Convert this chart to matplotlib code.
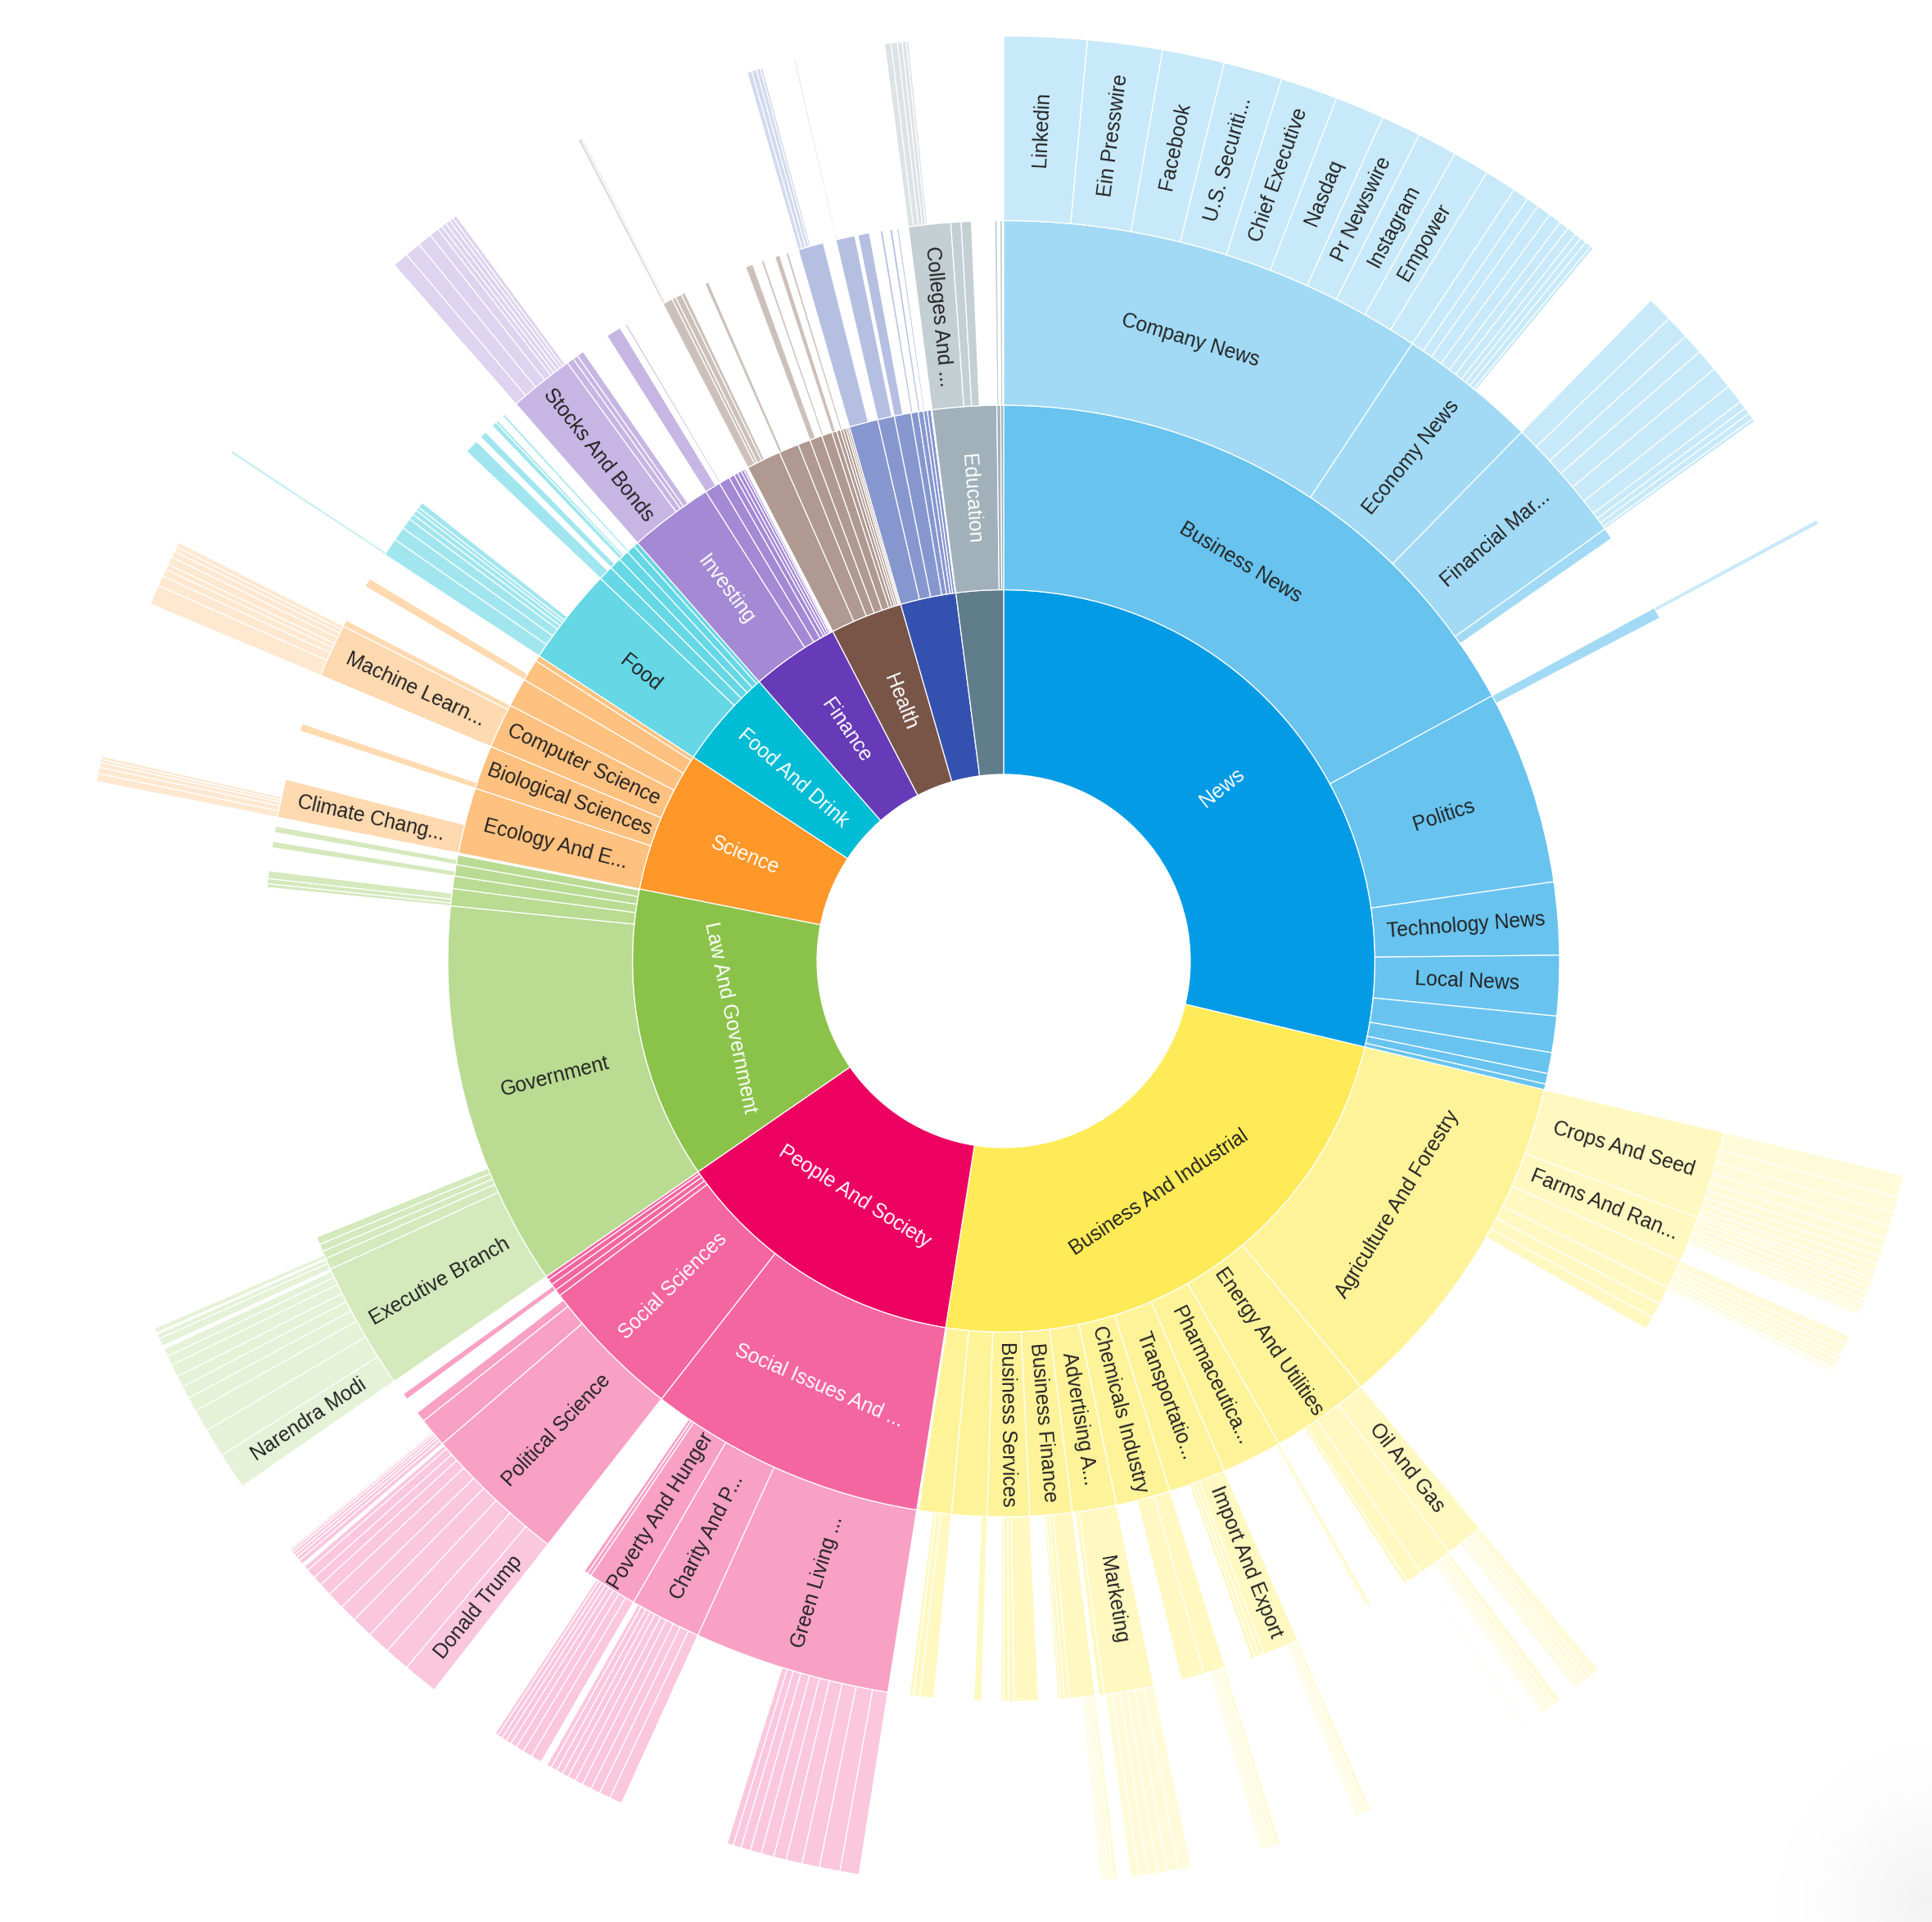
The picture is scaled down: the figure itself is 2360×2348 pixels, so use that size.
import math

import numpy as np
import matplotlib
matplotlib.use("Agg")  # headless
import matplotlib.pyplot as plt
from matplotlib.patches import Wedge
from matplotlib.colors import to_rgb

# ---------------------------------------------------------------------------
# Data (values are article counts; the whole circle is their total)
# None = segment too small to carry a label
# ---------------------------------------------------------------------------

TOP_NAMES = ["News", "Business And Industrial", "People And Society",
             "Law And Government", "Science", "Food And Drink", "Finance",
             "Health", None, None]
TOP_VALUES = [103.4, 85.6, 46.4, 45.8, 22.1, 15.5, 13.8, 11.3, 8.7, 7.4]

RING2_NAMES = {
    "News": ["Business News", "Politics", "Technology News", "Local News",
             None, None, None, None],
    "Business And Industrial": ["Agriculture And Forestry", "Energy And Utilities",
                                "Pharmaceutica...", "Transportatio...",
                                "Chemicals Industry", "Advertising A...",
                                "Business Finance", "Business Services", None, None],
    "People And Society": ["Social Issues And ...", "Social Sciences",
                           None, None, None, None],
    "Law And Government": ["Government", None, None, None, None],
    "Science": ["Ecology And E...", "Biological Sciences", "Computer Science",
                None, None, None],
    "Food And Drink": ["Food", None, None, None, None, None],
    "Finance": ["Investing", None, None, None, None, None, None, None, None],
    "Health": [None] * 11,
    "#8": [None] * 8,
    "#9": ["Education", None, None],
}
RING2_VALUES = {
    "News": [61.5, 20.3, 7.6, 6.3, 3.8, 2.2, 1.1, 0.6],
    "Business And Industrial": [36.6, 10.3, 6.3, 6.0, 5.7, 4.6, 4.4, 4.4, 3.7, 3.4],
    "People And Society": [29.0, 15.0, 0.7, 0.7, 0.6, 0.4],
    "Law And Government": [40.3, 1.8, 1.3, 1.2, 1.0],
    "Science": [6.9, 4.6, 4.7, 3.0, 2.3, 0.6],
    "Food And Drink": [10.2, 1.55, 1.25, 1.1, 0.9, 0.5],
    "Finance": [8.8, 1.65, 1.15, 0.6, 0.4, 0.4, 0.3, 0.2, 0.1],
    "Health": [3.6, 2.1, 1.3, 1.3, 1.1, 0.5, 0.4, 0.3, 0.3, 0.2, 0.2],
    "#8": [3.0, 1.75, 1.75, 0.75, 0.55, 0.4, 0.4, 0.1],
    "#9": [6.7, 0.4, 0.3],
}

RING3_NAMES = {
    "Business News": ["Company News", "Economy News", "Financial Mar...", None],
    "Politics": [None],
    "Agriculture And Forestry": ["Crops And Seed", "Farms And Ran...",
                                 None, None, None, None],
    "Energy And Utilities": ["Oil And Gas", None, None, None],
    "Pharmaceutica...": [None, None],
    "Transportatio...": ["Import And Export", None, None, None],
    "Chemicals Industry": [None, None],
    "Advertising A...": ["Marketing", None],
    "Business Finance": [None, None, None, None],
    "Business Services": [None, None, None, None],
    "Business And Industrial/8": [None],
    "Business And Industrial/9": [None, None, None],
    "Social Issues And ...": ["Green Living ...", "Charity And P...",
                              "Poverty And Hunger", None, None],
    "Social Sciences": ["Political Science", None, None],
    "People And Society/3": [None],
    "Government": ["Executive Branch", None, None, None, None],
    "Law And Government/1": [None, None, None],
    "Law And Government/3": [None],
    "Law And Government/4": [None],
    "Ecology And E...": ["Climate Chang..."],
    "Biological Sciences": [None],
    "Computer Science": ["Machine Learn...", None],
    "Science/4": [None],
    "Food": [None] * 7,
    "Food And Drink/1": [None],
    "Food And Drink/2": [None],
    "Food And Drink/3": [None, None],
    "Food And Drink/4": [None],
    "Investing": ["Stocks And Bonds", None, None, None],
    "Finance/1": [None],
    "Finance/2": [None],
    "Health/0": [None, None, None, None],
    "Health/1": [None],
    "Health/3": [None],
    "Health/4": [None],
    "Health/5": [None],
    "Health/7": [None],
    "#8/0": [None],
    "#8/1": [None],
    "#8/2": [None],
    "#8/3": [None],
    "#8/4": [None],
    "#8/5": [None],
    "Education": ["Colleges And ...", None, None],
    "#9/1": [None],
    "#9/2": [None],
}
RING3_VALUES = {
    "Business News": [33.5, 10.9, 9.9, 0.9],
    "Politics": [0.9],
    "Agriculture And Forestry": [6.9, 3.6, 2.3, 1.4, 1.2, 1.0],
    "Energy And Utilities": [3.0, 2.7, 1.25, 0.3],
    "Pharmaceutica...": [0.25, 0.15],
    "Transportatio...": [2.8, 0.4, 0.35, 0.3],
    "Chemicals Industry": [1.7, 1.8],
    "Advertising A...": [3.9, 0.4],
    "Business Finance": [2.0, 0.4, 0.3, 0.2],
    "Business Services": [1.9, 0.4, 0.4, 0.2],
    "Business And Industrial/8": [0.6],
    "Business And Industrial/9": [1.1, 0.5, 0.3],
    "Social Issues And ...": [15.4, 5.6, 3.9, 0.3, 0.3],
    "Social Sciences": [11.3, 2.3, 0.8],
    "People And Society/3": [0.5],
    "Government": [10.0, 0.9, 0.6, 0.6, 0.6],
    "Law And Government/1": [0.3, 0.4, 0.6],
    "Law And Government/3": [0.5],
    "Law And Government/4": [0.5],
    "Ecology And E...": [3.0],
    "Biological Sciences": [0.6],
    "Computer Science": [4.2, 0.5],
    "Science/4": [0.7],
    "Food": [1.4, 1.1, 0.85, 0.45, 0.4, 0.3, 0.45],
    "Food And Drink/1": [1.1],
    "Food And Drink/2": [0.55],
    "Food And Drink/3": [0.4, 0.2],
    "Food And Drink/4": [0.2],
    "Investing": [5.1, 0.55, 0.4, 0.55],
    "Finance/1": [1.2],
    "Finance/2": [0.15],
    "Health/0": [0.8, 0.3, 0.5, 0.3],
    "Health/1": [0.3],
    "Health/3": [0.6],
    "Health/4": [0.2],
    "Health/5": [0.4],
    "Health/7": [0.2],
    "#8/0": [2.0],
    "#8/1": [1.5],
    "#8/2": [0.9],
    "#8/3": [0.2],
    "#8/4": [0.2],
    "#8/5": [0.15],
    "Education": [3.3, 0.8, 0.8],
    "#9/1": [0.2],
    "#9/2": [0.2],
}

RING4_VALUES = {
    "Company News": [5.2, 4.7, 3.9, 3.7, 3.6, 3.1, 2.5, 2.5, 2.3, 2.0],
    "Economy News": [1.0, 0.8, 0.9, 0.8, 0.6, 0.6, 0.4, 0.4, 0.4, 0.2],
    "Financial Mar...": [1.6, 1.5, 1.3, 1.4, 1.4, 1.2, 0.5, 0.4, 0.4, 0.2],
    "Politics/0": [0.3],
    "Crops And Seed": [1.4, 1.0, 0.9, 0.75, 0.65, 0.55, 0.5, 0.5, 0.4, 0.25],
    "Farms And Ran...": [0.35, 0.4, 0.4, 0.3, 0.3, 0.2, 0.2],
    "Agriculture And Forestry/2": [0.6, 0.4, 0.35, 0.3, 0.3, 0.25],
    "Agriculture And Forestry/3": [0.15],
    "Oil And Gas": [0.6, 0.3, 0.3, 0.25, 0.2, 0.2],
    "Energy And Utilities/1": [0.4, 0.3, 0.2, 0.2, 0.15, 0.15, 0.1],
    "Energy And Utilities/2": [0.1],
    "Import And Export": [0.3, 0.2, 0.2, 0.15, 0.15],
    "Chemicals Industry/0": [0.3, 0.25, 0.2, 0.2, 0.15, 0.15],
    "Marketing": [0.8, 0.7, 0.6, 0.6, 0.6, 0.5],
    "Business Finance/0": [0.3, 0.25, 0.2, 0.15, 0.15],
    "Green Living ...": [1.2, 1.3, 1.1, 1.0, 0.8, 0.8, 0.7, 0.6, 0.5, 0.4],
    "Charity And P...": [0.8, 0.7, 0.6, 0.6, 0.5, 0.5, 0.4, 0.4, 0.4, 0.3],
    "Poverty And Hunger": [0.7, 0.6, 0.5, 0.4, 0.35, 0.3, 0.3, 0.2],
    "Political Science": [2.2, 1.6, 1.45, 1.35, 1.1, 1.1, 0.8, 0.6, 0.6, 0.3],
    "Social Sciences/1": [0.3, 0.25, 0.2, 0.2, 0.15, 0.1],
    "Executive Branch": [2.3, 1.8, 1.4, 0.9, 0.8, 0.7, 0.8, 0.6, 0.5],
    "Government/1": [0.5, 0.3],
    "Government/2": [0.3],
    "Climate Chang...": [0.5, 0.4, 0.3, 0.2, 0.2],
    "Machine Learn...": [1.26, 0.64, 0.45, 0.35, 0.5, 0.4, 0.3, 0.3],
    "Food/0": [0.2],
    "Stocks And Bonds": [1.0, 1.0, 0.9, 0.6, 0.3, 0.3, 0.3, 0.25, 0.25],
    "Health/0/0": [0.2, 0.1],
    "#8/0/0": [0.3, 0.3, 0.25, 0.15],
    "#8/1/0": [0.1],
    "Colleges And ...": [0.4, 0.4, 0.3, 0.25, 0.15],
}
LEAF_LABELS = {
    "Company News": ["Linkedin", "Ein Presswire", "Facebook", "U.S. Securiti...",
                     "Chief Executive", "Nasdaq", "Pr Newswire", "Instagram", "Empower"],
    "Political Science": ["Donald Trump"],
    "Executive Branch": ["Narendra Modi"],
}

# ---------------------------------------------------------------------------
# Style
# ---------------------------------------------------------------------------

TOP_COLORS = ["#039be5", "#ffeb57", "#ec0060", "#8bc34a", "#ff9729",
              "#00bcd4", "#673ab7", "#795548", "#3551b0", "#607d8b"]
RING_ALPHA = [1.0, 0.6, 0.37, 0.22]          # tint towards white per depth
RADII = [228, 453.5, 679, 904.5, 1130]
CX, CY = 1226, 1174
TANGENTIAL = {"Business And Industrial", "People And Society", "Law And Government",
              "Business News", "Agriculture And Forestry", "Social Issues And ...",
              "Company News"}
FONT = ["Liberation Sans", "DejaVu Sans"]
FONT_SIZE = 17.8


def _tint(color, alpha):
    r, g, b = to_rgb(color)
    return (1 - alpha * (1 - r), 1 - alpha * (1 - g), 1 - alpha * (1 - b))


def _text_color(rgb):
    def lin(c):
        return c / 12.92 if c <= 0.04045 else ((c + 0.055) / 1.055) ** 2.4
    lum = 0.2126 * lin(rgb[0]) + 0.7152 * lin(rgb[1]) + 0.0722 * lin(rgb[2])
    return "white" if lum < 0.47 else "#222222"


def _rotation(mid, tangential):
    rot = -mid if tangential else (90 - mid if mid < 180 else 270 - mid)
    rot = (rot + 180) % 360 - 180
    if rot > 90:
        rot -= 180
    elif rot <= -90:
        rot += 180
    return rot


def _children(key, depth):
    if depth == 0:
        return RING2_NAMES.get(key, []), RING2_VALUES.get(key, [])
    if depth == 1:
        return RING3_NAMES.get(key, []), RING3_VALUES.get(key, [])
    if depth == 2:
        vals = RING4_VALUES.get(key, [])
        labels = LEAF_LABELS.get(key, [])
        names = [labels[i] if i < len(labels) else None for i in range(len(vals))]
        return names, vals
    return [], []


fig = plt.figure(figsize=(23.6, 23.48), dpi=100)
ax = fig.add_axes([0, 0, 1, 1])
ax.set_xlim(0, 2360)
ax.set_ylim(0, 2348)
ax.set_aspect("equal")
ax.axis("off")

# faint corner shadow seen in the bottom-right of the original screenshot
yy, xx = np.mgrid[0:120, 0:120]
d = np.hypot((xx - 119) / 119.0 * 260, (yy - 12) / 119.0 * 260)
shade = 1 - 0.05 * np.clip(1 - d / 190.0, 0, 1) ** 1.5
ax.imshow(np.dstack([shade] * 3), extent=(2100, 2360, 0, 260), origin="lower",
          interpolation="bilinear", zorder=0)

scale = 360.0 / sum(TOP_VALUES)


def draw_node(key, label, start, span, depth, base):
    color = _tint(base, RING_ALPHA[depth])
    r_in, r_out = RADII[depth], RADII[depth + 1]
    ax.add_patch(Wedge((CX, CY), r_out, 90 - (start + span), 90 - start,
                       width=r_out - r_in, facecolor=color,
                       edgecolor="white", linewidth=0.9, zorder=2))
    if label:
        mid = start + span / 2.0
        rad = math.radians(90 - mid)
        rm = (r_in + r_out) / 2.0
        ax.text(CX + rm * math.cos(rad), CY + rm * math.sin(rad), label,
                rotation=_rotation(mid, label in TANGENTIAL),
                rotation_mode="anchor", ha="center", va="center", zorder=3,
                fontsize=FONT_SIZE, family=FONT, color=_text_color(color))
    names, values = _children(key, depth)
    a = start
    for i, (n, v) in enumerate(zip(names, values)):
        child_key = n if n is not None else f"{key}/{i}"
        draw_node(child_key, n, a, v * scale, depth + 1, base)
        a += v * scale


a0 = 0.0
for i, (name, val) in enumerate(zip(TOP_NAMES, TOP_VALUES)):
    key = name if name is not None else f"#{i}"
    draw_node(key, name, a0, val * scale, 0, TOP_COLORS[i])
    a0 += val * scale

ax.set_xlim(0, 2360)
ax.set_ylim(0, 2348)
fig.savefig("out.png", dpi=100, facecolor="white")
plt.close(fig)
